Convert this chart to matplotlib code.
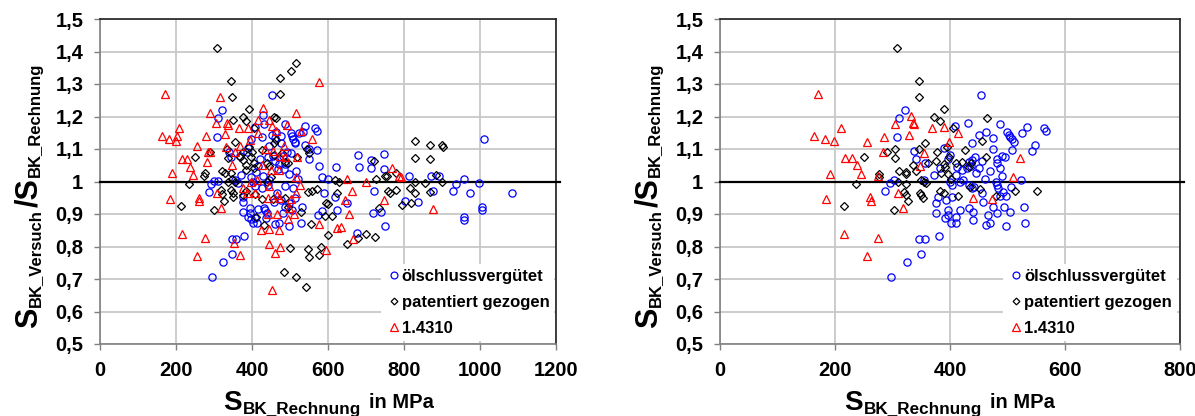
import matplotlib
matplotlib.use('Agg')
import matplotlib.pyplot as plt
from matplotlib.lines import Line2D
from matplotlib.ticker import FuncFormatter, MultipleLocator

plt.rcParams['font.family'] = ['Liberation Sans', 'DejaVu Sans']
plt.rcParams['font.weight'] = 'bold'

# ---------------- data: left panel (all) ----------------
left_oel_x = [453, 321, 311, 308, 430, 431, 407, 487, 502, 504, 509, 512, 514, 462, 452, 460, 476, 523, 535,
              540, 565, 570, 540, 550, 570, 550, 575, 583, 599, 589, 583, 574, 618, 623, 620, 650, 675, 680,
              682, 714, 712, 720, 719, 740, 747, 747, 750, 802, 813, 838, 871, 876, 891, 930, 936, 957, 973,
              997, 958, 958, 1005, 1005, 1011, 1084, 295, 324, 348, 357, 348, 380, 286, 293, 301, 311, 375,
              377, 375, 395, 395, 390, 397, 403, 412, 409, 417, 432, 435, 439, 438, 461, 471, 497, 457, 476,
              481, 487, 504, 530, 532, 512, 498, 466, 487, 507, 517, 522, 498, 484, 469, 461, 471, 487, 481,
              454, 441, 422, 415, 410, 398, 402, 407, 425, 441, 446, 430, 370, 355, 363, 344, 339, 368, 388,
              390, 397, 425, 446, 476, 491, 502]
left_oel_y = [1.267, 1.219, 1.194, 1.136, 1.205, 1.177, 1.169, 1.177, 1.148, 1.141, 1.130, 1.123, 1.117, 1.153,
              1.144, 1.133, 1.141, 1.148, 1.151, 1.171, 1.166, 1.156, 1.113, 1.100, 1.097, 1.069, 1.049, 1.013,
              1.007, 0.966, 0.909, 0.897, 0.953, 0.912, 1.046, 0.933, 0.841, 1.082, 1.046, 1.067, 1.043, 0.971,
              0.902, 0.905, 1.084, 1.040, 0.864, 0.940, 1.016, 0.936, 1.016, 0.971, 1.016, 0.971, 0.992, 1.008,
              0.964, 0.995, 0.891, 0.883, 0.923, 0.913, 1.132, 0.964, 0.705, 0.752, 0.824, 0.822, 0.776, 0.831,
              0.967, 0.992, 1.002, 1.002, 0.936, 0.953, 0.905, 0.919, 0.902, 0.892, 0.885, 0.871, 0.871, 0.887,
              0.914, 0.920, 0.912, 0.902, 0.887, 0.869, 0.872, 0.864, 0.938, 0.943, 0.902, 0.923, 0.912, 0.873,
              0.923, 0.949, 0.933, 0.964, 0.985, 0.979, 1.033, 1.007, 1.022, 1.038, 1.040, 1.064, 1.054, 1.054,
              1.079, 1.079, 1.074, 1.069, 1.049, 1.028, 1.013, 0.997, 0.985, 0.979, 0.990, 1.005, 1.018, 1.020,
              1.005, 0.995, 1.074, 1.092, 1.077, 1.092, 1.102, 1.130, 1.136, 1.110, 1.118, 1.092, 1.087]

left_pat_x = [309, 345, 348, 473, 473, 502, 517, 391, 376, 385, 349, 406, 458, 464, 356, 334, 336, 251, 289,
              376, 393, 400, 425, 458, 464, 376, 397, 385, 405, 385, 405, 322, 329, 345, 276, 274, 235, 213,
              301, 319, 322, 326, 344, 349, 350, 337, 347, 356, 385, 407, 411, 432, 440, 439, 446, 458, 478,
              487, 496, 518, 545, 550, 547, 558, 572, 594, 599, 611, 593, 601, 618, 628, 623, 555, 530, 496,
              486, 501, 547, 550, 576, 581, 483, 516, 542, 651, 680, 700, 724, 735, 720, 725, 750, 755, 758,
              762, 780, 780, 794, 818, 815, 828, 828, 828, 828, 868, 868, 869, 856, 884, 899, 903, 901, 451,
              425, 456, 375, 368]
left_pat_y = [1.412, 1.309, 1.260, 1.317, 1.268, 1.341, 1.365, 1.224, 1.197, 1.185, 1.190, 1.164, 1.200, 1.194,
              1.120, 1.101, 1.071, 1.074, 1.092, 1.092, 1.107, 1.092, 1.097, 1.118, 1.127, 1.066, 1.076, 1.051,
              1.056, 1.035, 1.041, 1.033, 1.027, 1.025, 1.025, 1.017, 0.992, 0.925, 0.911, 0.974, 0.961, 0.941,
              0.974, 0.966, 0.951, 0.997, 1.009, 0.997, 0.972, 0.961, 0.890, 0.866, 1.000, 1.056, 1.048, 1.081,
              1.089, 1.060, 1.056, 1.074, 1.100, 1.087, 0.969, 0.972, 0.976, 0.933, 0.930, 0.895, 0.893, 0.835,
              1.005, 1.000, 0.965, 0.869, 0.907, 0.923, 0.949, 0.794, 0.793, 0.769, 0.774, 0.800, 0.723, 0.707,
              0.674, 0.807, 0.825, 0.840, 0.830, 0.918, 1.062, 1.008, 1.016, 1.018, 0.972, 0.966, 0.974, 1.026,
              0.928, 0.933, 0.979, 0.964, 0.997, 1.125, 1.073, 1.112, 1.069, 0.967, 0.994, 1.020, 1.112, 1.106,
              1.000, 1.015, 0.945, 0.945, 0.959, 1.074]

left_ss_x = [170, 316, 575, 163, 182, 200, 203, 209, 256, 216, 229, 237, 190, 244, 185, 261, 261, 215, 275,
             256, 290, 304, 334, 336, 329, 278, 283, 289, 282, 348, 309, 318, 352, 369, 367, 390, 369, 331,
             354, 377, 386, 429, 445, 417, 453, 463, 416, 516, 492, 528, 559, 483, 435, 456, 474, 486, 518,
             396, 425, 414, 397, 450, 471, 515, 527, 446, 408, 467, 471, 441, 502, 517, 497, 510, 466, 494,
             441, 444, 424, 470, 446, 474, 461, 595, 452, 577, 623, 635, 654, 645, 651, 664, 699, 666, 747,
             768, 788, 793, 876]
left_ss_y = [1.270, 1.260, 1.305, 1.140, 1.130, 1.125, 1.140, 1.165, 1.110, 1.070, 1.070, 1.045, 1.025, 1.020,
             0.945, 0.950, 0.940, 0.840, 0.825, 0.770, 1.210, 1.180, 1.180, 1.175, 1.145, 1.140, 1.090, 1.090,
             1.060, 1.050, 0.965, 0.920, 0.810, 0.775, 1.165, 1.165, 1.110, 1.105, 1.090, 0.980, 0.965, 1.225,
             1.190, 1.190, 1.170, 1.155, 1.150, 1.210, 1.175, 1.155, 1.130, 1.110, 1.100, 1.095, 1.080, 1.075,
             1.075, 1.128, 1.050, 1.005, 0.997, 1.035, 1.035, 1.015, 0.990, 0.985, 0.965, 0.960, 0.950, 0.950,
             0.945, 0.965, 0.920, 0.900, 0.900, 0.885, 0.900, 0.855, 0.850, 0.850, 0.808, 0.797, 0.780, 0.790,
             0.665, 0.870, 0.858, 0.860, 0.900, 0.943, 1.007, 0.970, 1.000, 0.822, 0.942, 1.043, 1.018, 1.013,
             0.914]

# ---------------- data: right panel (subset) ----------------
right_oel_x = [454, 321, 312, 308, 431, 408, 487, 462, 450, 439, 475, 499, 502, 505, 507, 511, 526, 534, 564,
               567, 547, 543, 507, 475, 491, 495, 482, 482, 487, 470, 456, 443, 439, 433, 437, 450, 429, 445,
               460, 490, 523, 480, 482, 483, 492, 487, 497, 506, 529, 531, 497, 504, 494, 482, 474, 470, 462,
               466, 457, 455, 439, 433, 441, 433, 440, 440, 418, 411, 410, 401, 392, 396, 396, 376, 375, 379,
               393, 403, 400, 403, 423, 417, 410, 413, 420, 383, 372, 355, 338, 340, 356, 389, 400, 397, 287,
               296, 303, 297, 325, 349, 346, 357, 380]
right_oel_y = [1.267, 1.219, 1.194, 1.136, 1.179, 1.171, 1.177, 1.153, 1.144, 1.117, 1.133, 1.153, 1.144, 1.138,
               1.130, 1.122, 1.149, 1.169, 1.166, 1.156, 1.113, 1.095, 1.097, 1.100, 1.078, 1.076, 1.070, 1.056,
               1.041, 1.033, 1.064, 1.074, 1.066, 1.061, 1.048, 1.041, 1.041, 1.026, 1.008, 1.017, 1.005, 1.000,
               0.990, 0.979, 0.969, 0.954, 0.955, 0.983, 0.923, 0.871, 0.863, 0.907, 0.923, 0.902, 0.923, 0.871,
               0.866, 0.897, 0.938, 0.964, 0.979, 0.990, 0.984, 0.917, 0.905, 0.882, 0.911, 0.890, 0.871, 0.871,
               0.887, 0.897, 0.912, 0.933, 0.902, 0.953, 0.943, 0.953, 0.997, 0.990, 1.005, 1.000, 1.020, 1.046,
               1.036, 1.041, 1.020, 1.005, 1.094, 1.070, 1.056, 1.102, 1.082, 1.069, 0.972, 0.995, 1.005, 0.705,
               0.752, 0.776, 0.824, 0.822, 0.831]

right_pat_x = [308, 346, 346, 390, 372, 383, 464, 406, 357, 346, 305, 305, 251, 291, 378, 395, 399, 426, 456,
               462, 375, 362, 336, 389, 392, 340, 311, 324, 324, 385, 397, 410, 420, 436, 433, 277, 277, 237,
               215, 303, 309, 323, 320, 324, 327, 347, 349, 353, 350, 355, 358, 382, 389, 414, 401, 434, 452,
               480, 513, 551]
right_pat_y = [1.412, 1.308, 1.260, 1.224, 1.198, 1.185, 1.194, 1.164, 1.118, 1.100, 1.100, 1.072, 1.074, 1.090,
               1.090, 1.105, 1.076, 1.097, 1.124, 1.076, 1.064, 1.056, 1.051, 1.054, 1.046, 1.031, 1.033, 1.028,
               1.022, 1.027, 1.023, 1.056, 1.061, 1.056, 1.046, 1.022, 1.015, 0.992, 0.925, 0.911, 0.997, 0.991,
               0.967, 0.960, 0.941, 0.966, 0.960, 0.950, 1.004, 0.998, 0.994, 0.972, 0.965, 0.956, 1.008, 0.984,
               0.978, 0.956, 0.970, 0.972]

right_ss_x = [170, 164, 183, 198, 210, 192, 184, 218, 229, 239, 245, 256, 261, 262, 215, 275, 256, 275, 284,
              286, 304, 309, 318, 329, 332, 336, 337, 347, 355, 368, 390, 399, 414, 440, 473, 521, 510]
right_ss_y = [1.270, 1.140, 1.130, 1.125, 1.165, 1.024, 0.945, 1.073, 1.073, 1.050, 1.022, 1.120, 0.951, 0.940,
              0.840, 0.826, 0.772, 1.018, 1.092, 1.138, 1.178, 0.966, 0.918, 1.143, 1.202, 1.180, 1.177, 1.049,
              1.088, 1.166, 1.167, 1.122, 1.150, 0.950, 0.945, 1.071, 1.015]

series_labels = ['ölschlussvergütet', 'patentiert gezogen', '1.4310']
y_ticks = [0.5, 0.6, 0.7, 0.8, 0.9, 1.0, 1.1, 1.2, 1.3, 1.4, 1.5]

# ---------------- figure ----------------
W, H = 1195, 416
fig = plt.figure(figsize=(W / 100, H / 100), dpi=100)

def px_axes(x0, y0, x1, y1):
    return fig.add_axes([x0 / W, 1 - y1 / H, (x1 - x0) / W, (y1 - y0) / H])

ax1 = px_axes(100, 19, 556, 344)
ax2 = px_axes(720, 19, 1180, 344)

styles = [dict(marker='o', color='#0000ff', ms=5.2),
          dict(marker='D', color='#000000', ms=3.6),
          dict(marker='^', color='#ff0000', ms=5.4)]

def fmt_y(v, pos):
    if abs(v - 1.0) < 1e-9:
        return '1'
    return ('%.1f' % v).replace('.', ',')

def setup(ax, xmax, data):
    ax.set_xlim(0, xmax)
    ax.set_ylim(0.5, 1.5)
    ax.xaxis.set_major_locator(MultipleLocator(200))
    ax.set_yticks(y_ticks)
    ax.yaxis.set_major_formatter(FuncFormatter(fmt_y))
    ax.grid(True, color='#c8c8c8', linewidth=1.3, zorder=0)
    ax.set_axisbelow(True)
    for s in ['left', 'bottom']:
        ax.spines[s].set_color('#808080')
        ax.spines[s].set_linewidth(1.2)
    for s in ['top', 'right']:
        ax.spines[s].set_color('#202020')
        ax.spines[s].set_linewidth(1.2)
    ax.tick_params(axis='both', direction='out', length=4.5, width=1.0, color='#808080',
                   labelsize=14.5, pad=7.5)
    for lab in ax.get_xticklabels() + ax.get_yticklabels():
        lab.set_fontweight('bold')
    ax.axhline(1.0, xmin=0, xmax=1.008, color='black', linewidth=1.6, zorder=3, clip_on=False)
    handles = []
    for (xs, ys), st, lab in zip(data, styles, series_labels):
        ax.plot(xs, ys, linestyle='none', marker=st['marker'], markersize=st['ms'],
                markerfacecolor='none', markeredgecolor=st['color'], markeredgewidth=0.9, zorder=4)
        handles.append(Line2D([], [], linestyle='none', marker=st['marker'], markersize=st['ms'] * 0.95,
                              markerfacecolor='none', markeredgecolor=st['color'], markeredgewidth=0.9))
    leg = ax.legend(handles, series_labels, loc='upper left', bbox_to_anchor=(0.616, 0.247),
                    frameon=True, fancybox=False, framealpha=1, edgecolor='none', facecolor='white',
                    prop=dict(weight='bold', size=12), handlelength=0.95, handletextpad=0.0,
                    labelspacing=0.66, borderpad=0.3, borderaxespad=0)
    leg.set_zorder(6)

setup(ax1, 1200, [(left_oel_x, left_oel_y), (left_pat_x, left_pat_y), (left_ss_x, left_ss_y)])
setup(ax2, 800, [(right_oel_x, right_oel_y), (right_pat_x, right_pat_y), (right_ss_x, right_ss_y)])

renderer = fig.canvas.get_renderer()

def compose(x_px, y_px, pieces, vertical=False):
    """Draw text pieces one after another along a common baseline.
    pieces: (text, fontsize, baseline shift in px (positive = lower), gap before in px)"""
    pos = 0.0
    for txt, size, shift, gap in pieces:
        pos += gap
        if not vertical:
            t = fig.text((x_px + pos) / W, 1 - (y_px + shift) / H, txt, fontsize=size,
                         fontweight='bold', ha='left', va='baseline')
            pos += t.get_window_extent(renderer).width
        else:
            t = fig.text((x_px + shift) / W, 1 - (y_px - pos) / H, txt, fontsize=size,
                         fontweight='bold', rotation=90, rotation_mode='anchor',
                         ha='left', va='baseline')
            pos += t.get_window_extent(renderer).height

ylab_pieces = [('S', 22, 0, 0), ('BK_Versuch', 12, 3, 1), ('/S', 22, 0, 2), ('BK_Rechnung', 12, 3, 1)]
xlab_pieces = [('S', 20, 0, 0), ('BK_Rechnung', 12.3, 4, 1), ('in MPa', 14.5, -2, 8)]

compose(37, 328, ylab_pieces, vertical=True)
compose(657, 328, ylab_pieces, vertical=True)
compose(223, 410, xlab_pieces)
compose(844, 410, xlab_pieces)

fig.savefig('out.png', dpi=100)
